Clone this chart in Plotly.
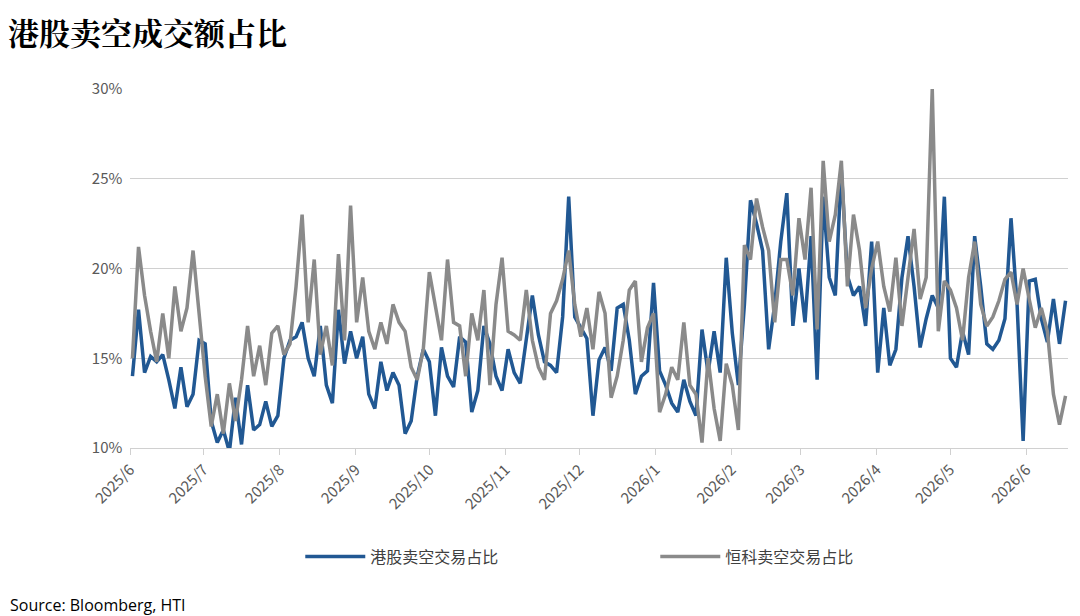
import pandas as pd
import plotly.graph_objects as go

# readings per month, roughly every two trading days
hk_short = [
    14.0, 17.7, 14.2, 15.1, 14.8, 15.2, 13.8, 12.2, 14.5, 12.3, 13.0, 16.0,
    15.8, 11.5, 10.3, 11.0, 9.8, 12.8, 10.2, 13.5, 11.0, 11.3, 12.6, 11.2,
    11.8, 15.0, 16.0, 16.2, 17.0, 15.0, 14.0, 16.8, 13.5, 12.5, 17.7, 14.7,
    16.5, 15.0, 16.2, 13.0, 12.2, 14.8, 13.2, 14.2, 13.5, 10.8, 11.5, 14.0,
    15.5, 14.8, 11.8, 15.6, 14.0, 13.4, 16.2, 15.9, 12.0, 13.2, 16.8, 15.8,
    14.0, 13.2, 15.5, 14.2, 13.6, 16.1, 18.5, 16.3, 14.8, 14.6, 14.2, 17.3,
    24.0, 17.3, 16.7, 16.1, 11.8, 14.9, 15.6, 14.3, 17.8, 18.0, 16.0, 13.0,
    14.0, 14.3, 19.2, 14.3, 13.5, 12.5, 12.0, 13.8, 12.6, 11.8, 16.6, 14.2,
    16.5, 14.2, 20.6, 16.4, 13.5, 18.0, 23.8, 22.5, 21.0, 15.5, 18.0, 21.5,
    24.2, 16.8, 20.0, 17.0, 21.8, 13.8, 24.0, 19.5, 18.5, 25.5, 19.6, 18.5,
    19.0, 16.8, 21.5, 14.2, 17.8, 14.6, 15.5, 19.5, 21.8, 19.0, 15.6, 17.2,
    18.5, 17.8, 24.0, 15.0, 14.5, 16.5, 15.2, 21.8, 19.0, 15.8, 15.5, 16.0,
    17.2, 22.8, 18.0, 10.4, 19.3, 19.4, 17.2, 15.9, 18.3, 15.8, 18.2,
]
hsi_short = [
    15.0, 21.2, 18.5, 16.5, 14.8, 17.5, 15.0, 19.0, 16.5, 17.8, 21.0, 17.3,
    14.0, 11.2, 13.0, 10.8, 13.6, 11.5, 13.8, 16.8, 14.0, 15.7, 13.5, 16.4,
    16.8, 15.2, 15.8, 19.0, 23.0, 17.0, 20.5, 15.2, 16.8, 14.6, 20.8, 16.0,
    23.5, 17.0, 19.5, 16.5, 15.5, 17.0, 15.8, 18.0, 17.0, 16.5, 14.5, 13.8,
    15.5, 19.8, 18.0, 16.0, 20.5, 17.0, 16.8, 14.0, 17.5, 16.0, 18.8, 13.5,
    18.0, 20.6, 16.5, 16.3, 16.0, 18.8, 16.0, 14.5, 13.8, 17.5, 18.2, 19.4,
    21.0, 18.0, 16.2, 17.8, 15.5, 18.7, 17.5, 12.8, 14.0, 16.0, 18.8, 19.3,
    14.8, 16.7, 17.5, 12.0, 13.0, 14.5, 13.8, 17.0, 13.5, 13.0, 10.3, 15.0,
    12.2, 10.4, 14.7, 13.5, 11.0, 21.3, 20.5, 23.9, 22.3, 21.0, 17.0, 20.5,
    20.5, 18.5, 22.8, 20.5, 24.5, 16.6, 26.0, 21.5, 23.0, 26.0, 19.0, 23.0,
    21.0, 17.8, 20.0, 21.5, 19.0, 17.6, 20.6, 16.8, 19.5, 22.2, 18.3, 19.5,
    30.0, 16.5, 19.3, 18.8, 17.8, 16.0, 19.5, 21.5, 18.0, 16.8, 17.3, 18.2,
    19.4, 19.8, 18.0, 20.0, 18.3, 16.7, 17.8, 16.5, 13.0, 11.3, 12.9,
]
month_ticks = pd.date_range("2025-06-01", "2026-06-01", freq="MS")
month_labels = [f"{d.year}/{d.month}" for d in month_ticks]

dates = pd.date_range("2025-06-02", "2026-06-17", periods=len(hk_short))
font = "Noto Sans CJK SC"

fig = go.Figure()
fig.add_trace(go.Scatter(x=dates, y=[v / 100 for v in hk_short], mode="lines",
                         name="港股卖空交易占比", line=dict(color="#215893", width=3.5)))
fig.add_trace(go.Scatter(x=dates, y=[v / 100 for v in hsi_short], mode="lines",
                         name="恒科卖空交易占比", line=dict(color="#8a8a8a", width=3.5)))

fig.update_layout(
    width=1080, height=616, plot_bgcolor="white", paper_bgcolor="white",
    margin=dict(l=122, r=20, t=81, b=176),
    font=dict(family=font, size=14, color="#595959"),
    title=dict(text="<b>港股卖空成交额占比</b>", x=0.0, y=0.975, xanchor="left",
               font=dict(size=31, color="black", family="Noto Serif CJK SC, " + font)),
    legend=dict(orientation="h", x=0.56, y=-0.255, xanchor="center", yanchor="top",
                font=dict(size=16, color="#404040"), itemwidth=60, entrywidth=280),
    xaxis=dict(range=["2025-06-01", "2026-06-18"], tickvals=month_ticks, ticktext=month_labels,
               tickangle=-45, showgrid=False, showline=True, linecolor="#d0d0d0",
               ticks="outside", tickcolor="#d0d0d0", ticklen=6, tickfont=dict(size=15)),
    yaxis=dict(range=[0.1, 0.3], dtick=0.05, tickformat=".0%", gridcolor="#d0d0d0",
               zeroline=False, ticksuffix="  ", tickfont=dict(size=15)),
)
fig.add_annotation(text="Source: Bloomberg, HTI", xref="paper", yref="paper", x=-0.13, y=-0.40,
                   xanchor="left", yanchor="top", showarrow=False,
                   font=dict(size=16, color="black", family="Open Sans"))

fig.write_html("out.html")
